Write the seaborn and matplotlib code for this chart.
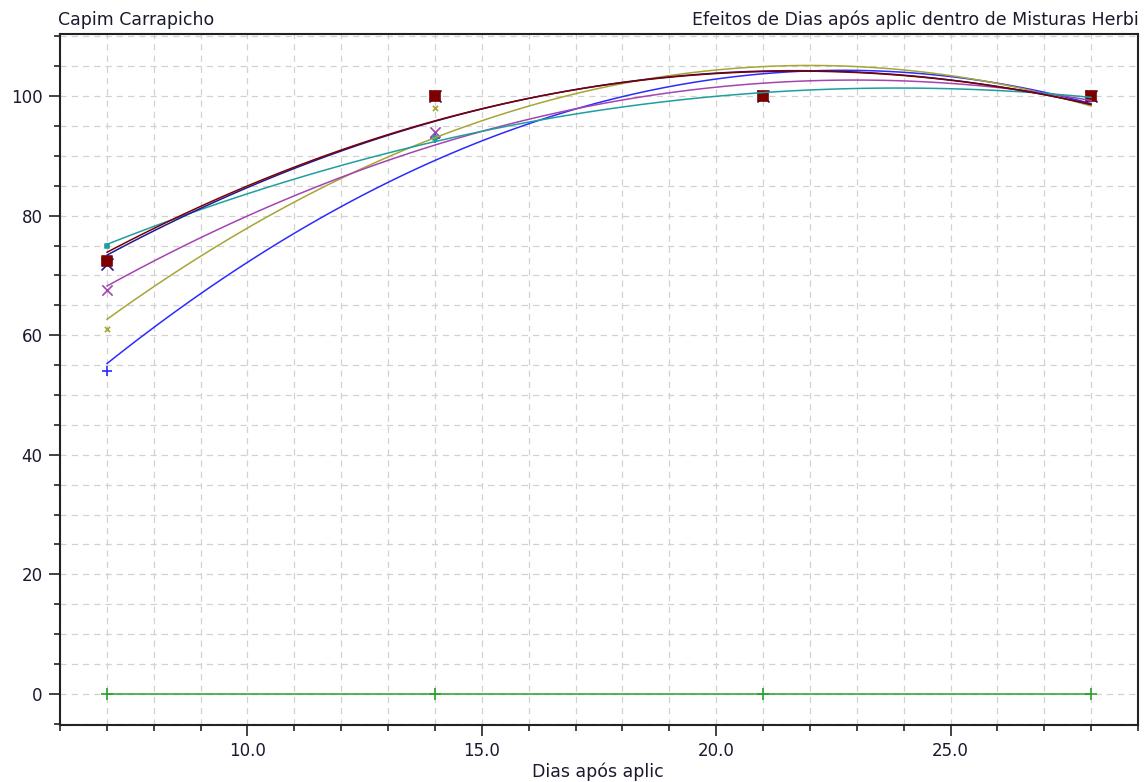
"""
Capim Carrapicho: efeitos de dias após aplicação dentro de misturas herbicidas.

Quadratic regression of control (%) on days after application, one curve per mixture.
"""

import numpy as np
import matplotlib
matplotlib.use("Agg")
import matplotlib.pyplot as plt
from matplotlib.ticker import MultipleLocator, FormatStrFormatter
import seaborn as sns

dias = [7, 14, 21, 28]

# control values per herbicide mixture
mistura_verde = [0, 0, 0, 0]
mistura_azul = [54, 93, 100, 100]
mistura_oliva = [61, 98, 100, 100]
mistura_roxa = [67.5, 94, 100, 100]
mistura_ciano = [75, 93, 100, 100]
mistura_marinho = [72, 100, 100, 100]
mistura_vinho = [72.5, 100, 100, 100]

series = [
    (mistura_verde, '#2ca02c', '+', 70),
    (mistura_azul, '#2b2bff', '+', 45),
    (mistura_oliva, '#a6a635', 'x', 14),
    (mistura_roxa, '#a444b0', 'x', 55),
    (mistura_ciano, '#1f9e9e', 's', 12),
    (mistura_marinho, '#1a1a9a', 'x', 75),
    (mistura_vinho, '#7d0000', 's', 60),
]

TEXT_COLOR = '#1a1a2e'


def draw_chart(ax):
    """One quadratic fit (regplot order=2) per mixture."""
    for values, color, marker, size in series:
        sns.regplot(
            x=np.array(dias, dtype=float),
            y=np.array(values, dtype=float),
            order=2,
            ci=None,
            marker=marker,
            color=color,
            scatter_kws={'s': size, 'alpha': 1, 'linewidths': 1.2},
            line_kws={'lw': 1.1},
            ax=ax,
        )


def style_axes(ax):
    ax.set_xlim(6, 29)
    ax.set_ylim(-5.2, 110.4)

    ax.xaxis.set_major_locator(MultipleLocator(5))
    ax.xaxis.set_minor_locator(MultipleLocator(1))
    ax.xaxis.set_major_formatter(FormatStrFormatter('%.1f'))
    ax.yaxis.set_major_locator(MultipleLocator(20))
    ax.yaxis.set_minor_locator(MultipleLocator(5))

    ax.grid(which='both', color='#d2d2d2', linestyle=(0, (5, 4)), linewidth=0.9)
    ax.set_axisbelow(True)

    ax.tick_params(which='both', bottom=True, left=True, top=False, right=False)
    ax.tick_params(which='major', direction='out', length=8, width=1.2,
                   color='#222222', labelsize=12, labelcolor=TEXT_COLOR, pad=4.5)
    ax.tick_params(which='minor', direction='out', length=4.5, width=1.2,
                   color='#222222')

    for side in ['left', 'bottom', 'right', 'top']:
        ax.spines[side].set_visible(True)
        ax.spines[side].set_color('#222222')
        ax.spines[side].set_linewidth(1.5)

    ax.set_xlabel('')
    ax.set_ylabel('')


def main():
    sns.set_style('white')
    plt.rcParams['font.family'] = ['DejaVu Sans']

    fig = plt.figure(figsize=(11.47, 7.82), dpi=100)
    ax = fig.add_axes([0.0523, 0.0729, 0.9399, 0.8836])

    draw_chart(ax)
    style_axes(ax)

    fig.text(58 / 1147, 1 - 25 / 782, 'Capim Carrapicho', fontsize=12.5,
             color=TEXT_COLOR, ha='left', va='baseline')
    fig.text(1139 / 1147, 1 - 25 / 782,
             'Efeitos de Dias após aplic dentro de Misturas Herbi',
             fontsize=12.5, color=TEXT_COLOR, ha='right', va='baseline')
    fig.text(598 / 1147, 1 - 777 / 782, 'Dias após aplic', fontsize=12.5,
             color=TEXT_COLOR, ha='center', va='baseline')

    fig.savefig('out.png', dpi=100)


if __name__ == "__main__":
    main()
